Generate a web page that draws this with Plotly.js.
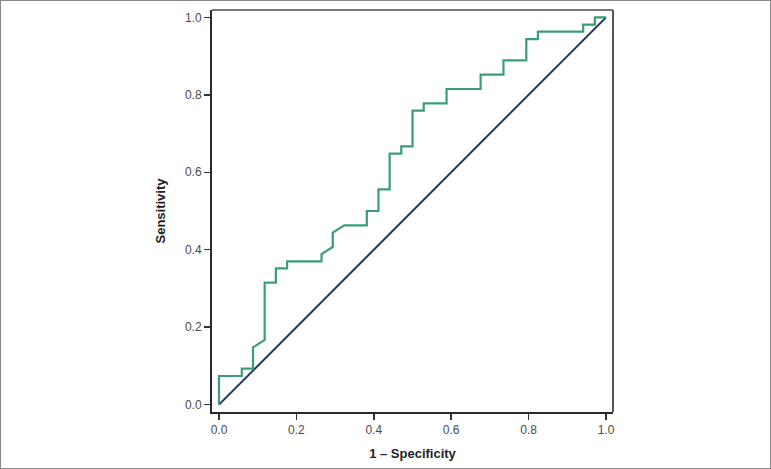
<!DOCTYPE html>
<html>
<head>
<meta charset="utf-8">
<script src="https://cdn.plot.ly/plotly-3.0.1.min.js"></script>
<style>
  html, body { margin: 0; padding: 0; background: #fff; }
  #chart { width: 771px; height: 469px; position: relative; }
  #frame { position: absolute; left: 0; top: 0; width: 769px; height: 467px; border: 1px solid #8a8a8a; pointer-events: none; }
</style>
</head>
<body>
<div style="position:relative;width:771px;height:469px;">
  <div id="chart"></div>
  <div id="frame"></div>
</div>
<script>
// ROC curve (1 - Specificity vs Sensitivity)
const fpr = [0.000, 0.000, 0.059, 0.059, 0.088, 0.088, 0.118, 0.118, 0.147, 0.147, 0.176, 0.176,
             0.265, 0.265, 0.294, 0.294, 0.324, 0.382, 0.382, 0.412, 0.412, 0.441, 0.441, 0.471,
             0.471, 0.500, 0.500, 0.529, 0.529, 0.588, 0.588, 0.676, 0.676, 0.735, 0.735, 0.794,
             0.794, 0.824, 0.824, 0.941, 0.941, 0.971, 0.971, 1.000];
const tpr = [0.000, 0.074, 0.074, 0.093, 0.093, 0.148, 0.167, 0.315, 0.315, 0.352, 0.352, 0.370,
             0.370, 0.389, 0.407, 0.444, 0.463, 0.463, 0.500, 0.500, 0.556, 0.556, 0.648, 0.648,
             0.667, 0.667, 0.759, 0.759, 0.778, 0.778, 0.815, 0.815, 0.852, 0.852, 0.889, 0.889,
             0.944, 0.944, 0.963, 0.963, 0.981, 0.981, 1.000, 1.000];
// Reference line
const refX = [0, 1];
const refY = [0, 1];
const tickVals = [0, 0.2, 0.4, 0.6, 0.8, 1.0];
const tickText = ["0.0", "0.2", "0.4", "0.6", "0.8", "1.0"];

const sans = '"Liberation Sans", Arial, sans-serif';

const traces = [
  { x: refX, y: refY, mode: 'lines', line: { color: '#1c3557', width: 2 }, hoverinfo: 'skip' },
  { x: fpr, y: tpr, mode: 'lines', line: { color: '#3b9d78', width: 2.2 }, hoverinfo: 'skip' }
];

const layout = {
  width: 771, height: 469,
  margin: { l: 212, r: 158, t: 10, b: 57 },
  paper_bgcolor: '#fff', plot_bgcolor: '#fff',
  showlegend: false,
  xaxis: {
    range: [-0.018, 1.018], tickvals: tickVals, ticktext: tickText,
    showgrid: false, zeroline: false, showline: true, linecolor: '#2a2a2a', linewidth: 2,
    ticks: 'outside', ticklen: 6, tickwidth: 1.5, tickcolor: '#333',
    tickfont: { family: sans, size: 12, color: '#4a4a4a' },
    title: { text: '<b>1 – Specificity</b>', font: { family: sans, size: 13, color: '#222' }, standoff: 12 }
  },
  yaxis: {
    range: [-0.019, 1.019], tickvals: tickVals, ticktext: tickText,
    showgrid: false, zeroline: false, showline: true, linecolor: '#2a2a2a', linewidth: 2,
    ticks: 'outside', ticklen: 6, tickwidth: 1.5, tickcolor: '#333',
    tickfont: { family: sans, size: 12, color: '#4a4a4a' },
    title: { text: '<b>Sensitivity</b>', font: { family: sans, size: 13, color: '#222' }, standoff: 16 }
  },
  shapes: [
    { type: 'line', xref: 'paper', yref: 'paper', x0: 0, x1: 1, y0: 1, y1: 1, line: { color: '#777', width: 2 } },
    { type: 'line', xref: 'paper', yref: 'paper', x0: 1, x1: 1, y0: 0, y1: 1, line: { color: '#555', width: 2 } }
  ]
};

Plotly.newPlot('chart', traces, layout, { staticPlot: true, displayModeBar: false });
</script>
</body>
</html>
